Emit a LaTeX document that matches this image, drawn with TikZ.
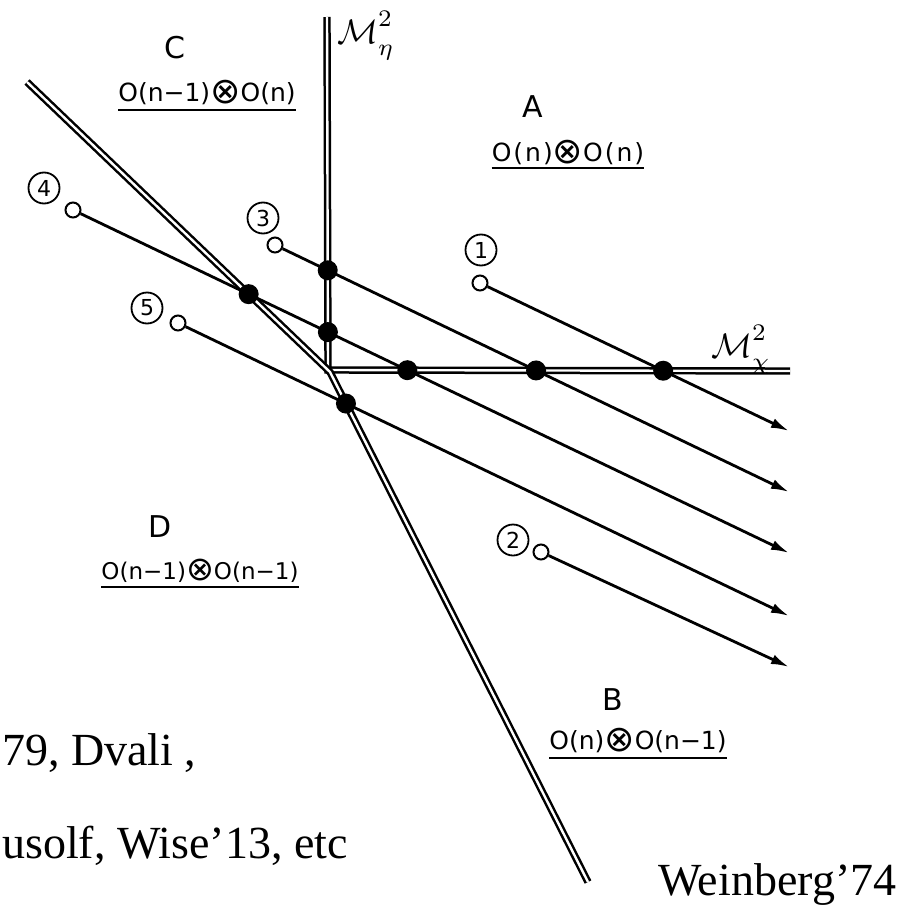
\documentclass[tikz,border=0pt]{standalone}
\usepackage{fontspec}
\setmainfont{Liberation Serif}
\newfontfamily\labfont{DejaVu Sans}
\newcommand{\otim}{\raisebox{-0.08em}{\scalebox{1.45}{⊗}}}
\newcommand{\axsym}[1]{\mathcal{M}^{\raisebox{1.2pt}{$\scriptstyle 2$}}_{\raisebox{-1.2pt}{$\scriptstyle #1$}}}
\usetikzlibrary{arrows.meta,intersections}
\begin{document}
\begin{tikzpicture}[x=1pt,y=-1pt,
 phase/.style={draw=black, double=white, double distance=2.4pt, line width=2.5pt, line join=miter},
 traj/.style={draw=black, line width=2.8pt, -{Latex[length=18pt,width=10pt]}},
 opendot/.style={circle, draw=black, fill=white, line width=2pt, minimum size=15pt, inner sep=0pt},
 fulldot/.style={circle, fill=black, minimum size=20pt, inner sep=0pt},
 numlabel/.style={circle, draw=black, line width=1.8pt, minimum size=31pt, inner sep=0pt, font=\labfont\fontsize{22}{24}\selectfont},
 region/.style={font=\labfont\fontsize{30}{34}\selectfont, inner sep=0pt},
 group/.style={font=\labfont\fontsize{25}{30}\selectfont, inner sep=0pt, anchor=base},
 uline/.style={draw=black, line width=2.6pt},
 axlabel/.style={inner sep=0pt},
 bigtext/.style={font=\fontsize{46}{52}\selectfont, inner sep=0pt, anchor=base west},
]
\useasboundingbox (0,0) rectangle (903,907);

% phase boundaries
\coordinate (vtop) at (327,17);
\coordinate (corner) at (328,370);
\coordinate (hend) at (790,371);
\coordinate (dtop) at (27,82);
\coordinate (bend) at (330,372);
\coordinate (dbot) at (588,882);
\draw[phase] (vtop) -- (corner) -- (hend);
\draw[phase] (dtop) -- (bend) -- (dbot);
\path[name path=vline] (vtop) -- (corner);
\path[name path=hline] (corner) -- (hend);
\path[name path=dline] (dtop) -- (bend) -- (dbot);

% axis labels
\node[axlabel] (meta) at (366,36) {\scalebox{3.4}{$\axsym{\eta}$}};
\node[axlabel] (mchi) at (741,350) {\scalebox{3.4}{$\axsym{\chi}$}};

% start points
\node[opendot] (s1) at (480,283) {};
\node[opendot] (s2) at (541,552) {};
\node[opendot] (s3) at (275,245) {};
\node[opendot] (s4) at (73,210) {};
\node[opendot] (s5) at (178,323) {};
\coordinate (e1) at (789,431);
\coordinate (e2) at (789,667);
\coordinate (e3) at (789,492);
\coordinate (e4) at (789,553);
\coordinate (e5) at (789,616);

% trajectories
\draw[traj, name path=t1] (s1) -- (e1);
\draw[traj, name path=t2] (s2) -- (e2);
\draw[traj, name path=t3] (s3) -- (e3);
\draw[traj, name path=t4] (s4) -- (e4);
\draw[traj, name path=t5] (s5) -- (e5);

% transition points
\path[name intersections={of=t1 and hline, by=x1h}];
\path[name intersections={of=t3 and vline, by=x3v}];
\path[name intersections={of=t3 and hline, by=x3h}];
\path[name intersections={of=t4 and dline, by=x4d}];
\path[name intersections={of=t4 and vline, by=x4v}];
\path[name intersections={of=t4 and hline, by=x4h}];
\path[name intersections={of=t5 and dline, by=x5d}];
\node[fulldot] (d1h) at (x1h) {};
\node[fulldot] (d3v) at (x3v) {};
\node[fulldot] (d3h) at (x3h) {};
\node[fulldot] (d4d) at (x4d) {};
\node[fulldot] (d4v) at (x4v) {};
\node[fulldot] (d4h) at (x4h) {};
\node[fulldot] (d5d) at (x5d) {};

% circled numbers
\node[numlabel] (n1) at (481,250) {1};
\node[numlabel] (n2) at (513,540) {2};
\node[numlabel] (n3) at (263,218) {3};
\node[numlabel] (n4) at (44,188) {4};
\node[numlabel] (n5) at (147,308) {5};

% region labels
\node[region] (rC) at (175,48) {C};
\node[region] (rA) at (533,107) {A};
\node[region] (rD) at (160,527) {D};
\node[region] (rB) at (613,700) {B};

\node[group] (gC) at (207,101) {O(n−1)\otim O(n)};
\node[group] (gA) at (568,161) {\addfontfeature{LetterSpace=8}O(n)\otim O(n)};
\node[group, font=\labfont\fontsize{23}{28}\selectfont] (gD) at (200,579) {O(n−1)\otim O(n−1)};
\node[group] (gB) at (638,749) {O(n)\otim O(n−1)};
\draw[uline] ([yshift=-9pt]gC.base west) -- ([yshift=-9pt]gC.base east);
\draw[uline] ([yshift=-7pt]gA.base west) -- ([yshift=-7pt]gA.base east);
\draw[uline] ([yshift=-8pt]gD.base west) -- ([yshift=-8pt]gD.base east);
\draw[uline] ([yshift=-9pt]gB.base west) -- ([yshift=-9pt]gB.base east);

% slide text
\node[bigtext] (r1) at (2,765) {79, Dvali ,};
\node[bigtext] (r2) at (2,858) {usolf, Wise’13, etc};
\node[bigtext] (r3) at (658,895) {Weinberg’74};
\end{tikzpicture}
\end{document}
